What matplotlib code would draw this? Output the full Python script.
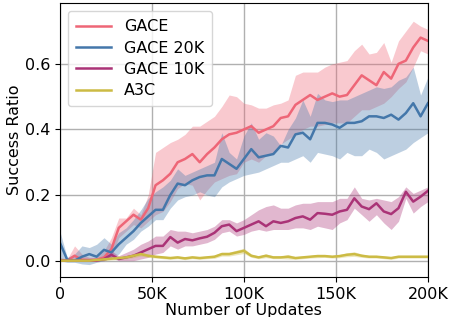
import numpy as np
import matplotlib
matplotlib.use("Agg")
import matplotlib.pyplot as plt

# training steps (thousands)
steps = np.arange(0, 201, 4)

gace = [0.0, 0.0, 0.015, 0.003, 0.002, 0.003, 0.01, 0.035, 0.10, 0.12,
        0.14, 0.125, 0.16, 0.23, 0.245, 0.265, 0.30, 0.31, 0.325, 0.30,
        0.325, 0.345, 0.37, 0.385, 0.39, 0.40, 0.41, 0.39, 0.40, 0.41,
        0.435, 0.44, 0.475, 0.49, 0.505, 0.49, 0.50, 0.51, 0.50, 0.505,
        0.535, 0.565, 0.55, 0.535, 0.575, 0.555, 0.60, 0.61, 0.65, 0.68, 0.67]
gace_hi = [0.01, 0.005, 0.045, 0.02, 0.01, 0.01, 0.03, 0.07, 0.13, 0.13,
           0.16, 0.14, 0.20, 0.33, 0.345, 0.36, 0.37, 0.385, 0.41, 0.41,
           0.425, 0.44, 0.47, 0.505, 0.50, 0.48, 0.475, 0.465, 0.465, 0.475,
           0.48, 0.49, 0.565, 0.575, 0.575, 0.575, 0.59, 0.60, 0.605, 0.61,
           0.64, 0.66, 0.63, 0.635, 0.665, 0.605, 0.67, 0.70, 0.73, 0.715, 0.705]
gace_lo = [0.0, 0.0, 0.0, 0.0, 0.0, 0.0, 0.0, 0.01, 0.07, 0.09,
           0.11, 0.10, 0.12, 0.14, 0.15, 0.18, 0.22, 0.235, 0.23, 0.185,
           0.215, 0.24, 0.25, 0.26, 0.265, 0.30, 0.31, 0.30, 0.32, 0.33,
           0.355, 0.37, 0.385, 0.40, 0.41, 0.41, 0.415, 0.42, 0.42, 0.42,
           0.44, 0.46, 0.46, 0.47, 0.48, 0.50, 0.525, 0.545, 0.59, 0.64, 0.63]

g20 = [0.055, 0.003, 0.0, 0.012, 0.02, 0.012, 0.033, 0.025, 0.05, 0.07,
       0.09, 0.115, 0.135, 0.155, 0.155, 0.20, 0.235, 0.23, 0.245, 0.255,
       0.26, 0.26, 0.31, 0.295, 0.28, 0.31, 0.34, 0.315, 0.32, 0.325,
       0.35, 0.345, 0.385, 0.39, 0.37, 0.42, 0.42, 0.415, 0.405, 0.42,
       0.42, 0.425, 0.44, 0.44, 0.435, 0.445, 0.43, 0.45, 0.48, 0.44, 0.48]
g20_hi = [0.09, 0.01, 0.02, 0.045, 0.04, 0.05, 0.07, 0.05, 0.085, 0.10,
          0.125, 0.155, 0.19, 0.21, 0.225, 0.245, 0.28, 0.26, 0.27, 0.28,
          0.29, 0.30, 0.39, 0.33, 0.31, 0.38, 0.42, 0.37, 0.39, 0.38,
          0.35, 0.40, 0.435, 0.49, 0.44, 0.51, 0.49, 0.485, 0.49, 0.49,
          0.50, 0.51, 0.52, 0.53, 0.525, 0.53, 0.55, 0.56, 0.59, 0.505, 0.56]
g20_lo = [0.0, -0.005, -0.005, -0.01, -0.012, -0.005, 0.0, 0.01, 0.02, 0.05,
          0.065, 0.09, 0.105, 0.125, 0.125, 0.16, 0.185, 0.195, 0.20, 0.21,
          0.20, 0.195, 0.225, 0.24, 0.25, 0.26, 0.265, 0.27, 0.28, 0.29,
          0.30, 0.30, 0.31, 0.32, 0.30, 0.33, 0.325, 0.32, 0.31, 0.33,
          0.32, 0.32, 0.34, 0.33, 0.31, 0.32, 0.33, 0.34, 0.36, 0.375, 0.39]

g10 = [0.0, 0.0, 0.0, 0.0, 0.0, 0.0, 0.005, 0.018, 0.005, 0.01,
       0.015, 0.025, 0.035, 0.045, 0.045, 0.072, 0.055, 0.066, 0.062, 0.068,
       0.073, 0.085, 0.105, 0.11, 0.09, 0.10, 0.11, 0.12, 0.105, 0.12,
       0.115, 0.12, 0.13, 0.135, 0.125, 0.145, 0.143, 0.14, 0.15, 0.155,
       0.19, 0.165, 0.157, 0.175, 0.15, 0.142, 0.16, 0.21, 0.18, 0.195, 0.213]
g10_hi = [0.005, 0.005, 0.005, 0.005, 0.005, 0.005, 0.01, 0.03, 0.015, 0.025,
          0.035, 0.05, 0.06, 0.075, 0.075, 0.095, 0.09, 0.09, 0.085, 0.09,
          0.095, 0.105, 0.125, 0.125, 0.115, 0.125, 0.14, 0.155, 0.165, 0.17,
          0.16, 0.16, 0.17, 0.175, 0.175, 0.18, 0.18, 0.18, 0.19, 0.19,
          0.225, 0.19, 0.185, 0.19, 0.185, 0.18, 0.195, 0.225, 0.205, 0.215, 0.225]
g10_lo = [0.0, 0.0, 0.0, 0.0, 0.0, 0.0, 0.0, 0.008, 0.0, 0.0,
          0.0, 0.005, 0.01, 0.02, 0.025, 0.045, 0.035, 0.045, 0.045, 0.05,
          0.055, 0.065, 0.085, 0.09, 0.075, 0.08, 0.09, 0.095, 0.09, 0.095,
          0.095, 0.095, 0.10, 0.10, 0.095, 0.105, 0.10, 0.095, 0.115, 0.125,
          0.16, 0.14, 0.12, 0.14, 0.115, 0.095, 0.12, 0.19, 0.145, 0.165, 0.18]

a3c = [0.0, 0.0, 0.0, 0.0, 0.0, 0.002, 0.004, 0.006, 0.008, 0.01,
       0.015, 0.02, 0.015, 0.012, 0.01, 0.008, 0.01, 0.007, 0.01, 0.008,
       0.01, 0.012, 0.02, 0.02, 0.025, 0.03, 0.015, 0.01, 0.015, 0.01,
       0.01, 0.012, 0.008, 0.01, 0.012, 0.014, 0.014, 0.012, 0.014, 0.018,
       0.02, 0.015, 0.012, 0.012, 0.01, 0.008, 0.012, 0.012, 0.012, 0.012, 0.012]
a3c_spread = [0.002, 0.002, 0.002, 0.002, 0.002, 0.003, 0.003, 0.004, 0.004, 0.005,
              0.006, 0.006, 0.005, 0.004, 0.004, 0.004, 0.004, 0.004, 0.004, 0.004,
              0.004, 0.005, 0.006, 0.006, 0.007, 0.008, 0.005, 0.004, 0.006, 0.004,
              0.004, 0.007, 0.004, 0.004, 0.004, 0.005, 0.004, 0.004, 0.005, 0.006,
              0.007, 0.005, 0.004, 0.004, 0.004, 0.004, 0.004, 0.004, 0.004, 0.004, 0.004]

series = [
    ("GACE", gace, gace_lo, gace_hi, "#EE6677"),
    ("GACE 20K", g20, g20_lo, g20_hi, "#4477AA"),
    ("GACE 10K", g10, g10_lo, g10_hi, "#AA3377"),
    ("A3C", a3c, np.subtract(a3c, a3c_spread), np.add(a3c, a3c_spread), "#CCBB44"),
]

plt.rcParams["font.size"] = 11.5
fig, ax = plt.subplots(figsize=(4.5, 3.17), dpi=100)
fig.subplots_adjust(left=0.133, right=0.951, top=0.99, bottom=0.126)

x = steps * 1000
for name, m, lo, hi, c in series:
    ax.fill_between(x, lo, hi, color=c, alpha=0.35, linewidth=0)
    ax.plot(x, m, color=c, lw=1.8, label=name)

ax.set_xlim(0, 200000)
ax.set_ylim(-0.05, 0.785)
ax.set_xticks([0, 50000, 100000, 150000, 200000])
ax.set_xticklabels(["0", "50K", "100K", "150K", "200K"])
ax.set_yticks([0.0, 0.2, 0.4, 0.6])
ax.grid(True, color="#b0b0b0", lw=1.0)
ax.set_axisbelow(True)
ax.set_xlabel("Number of Updates", labelpad=1)
ax.set_ylabel("Success Ratio", labelpad=2)
ax.legend(loc="upper left", handlelength=2.2, borderpad=0.5, labelspacing=0.4)

fig.savefig("out.png", dpi=100)
